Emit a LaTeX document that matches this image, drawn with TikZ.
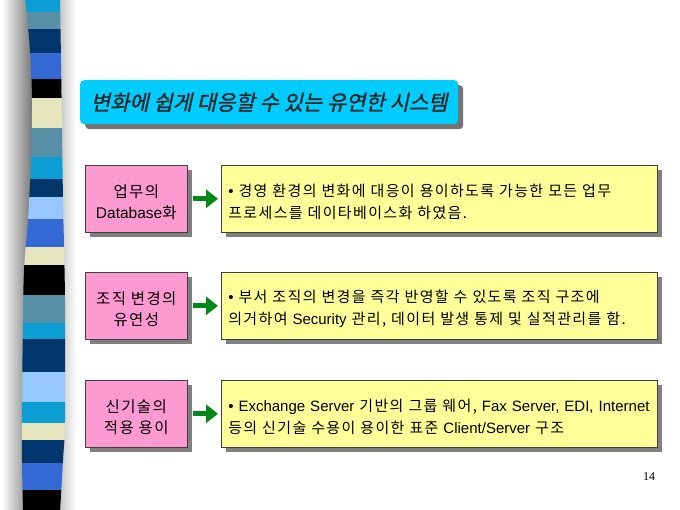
\documentclass[tikz,border=0pt]{standalone}
\usepackage{fontspec}
\setmainfont[LetterSpace=9]{Noto Sans CJK KR}
\newfontfamily\ar{Liberation Sans}
\newfontfamily\ttlfont[FakeSlant=0.22,FakeBold=1.2]{Noto Sans CJK KR}
\newfontfamily\tms{Liberation Serif}
\usetikzlibrary{arrows.meta,shadows}
\definecolor{scyan}{RGB}{10,158,212}
\definecolor{ssteel}{RGB}{88,144,168}
\definecolor{snavy}{RGB}{0,54,108}
\definecolor{sroyal}{RGB}{52,104,210}
\definecolor{sbeige}{RGB}{230,230,190}
\definecolor{slight}{RGB}{150,200,255}
\definecolor{titlecyan}{RGB}{0,204,255}
\definecolor{pinkfill}{RGB}{255,153,210}
\definecolor{yelfill}{RGB}{255,255,153}
\definecolor{arrgreen}{RGB}{0,136,24}
\newcommand{\toppad}{\rule{0pt}{19pt}}
\tikzset{
  shbox/.style={draw=black!75, line width=0.6pt, drop shadow={shadow xshift=5pt, shadow yshift=-5pt, fill=black!50, opacity=1}},
  pinkbox/.style={shbox, fill=pinkfill, minimum width=102pt, minimum height=67pt, inner sep=0pt, align=center, font=\fontsize{15.5}{21}\selectfont, anchor=north west},
  yelbox/.style={shbox, fill=yelfill, minimum height=67pt, text width=422pt, inner xsep=7pt, inner ysep=0pt, align=left, font=\fontsize{15}{22}\selectfont, anchor=north west},
  arr/.style={arrgreen, line width=5pt, -{Triangle[length=12pt,width=18pt]}, shorten >=3pt, shorten <=5pt}
}
\begin{document}
\begin{tikzpicture}[x=1pt,y=-1pt]
\useasboundingbox (0,0) rectangle (680,510);
\fill[white] (0,0) rectangle (680,510);
% stripe shadows
\shade[left color=white, right color=black!55] (2,0) rectangle (33,510);
\shade[left color=black!25, right color=white] (58,0) rectangle (76,510);
% stripe
\begin{scope}
\clip plot[smooth] coordinates {(25,-2)(30,50)(32,100)(31,160)(28,220)(24,270)(23,320)(22,400)(22,460)(23,512)}
  -- plot[smooth] coordinates {(60,512)(63,460)(65,420)(65,300)(63,200)(62,130)(61,60)(60,-2)} -- cycle;
\fill[scyan] (0,-2) rectangle (80,12);
\fill[ssteel] (0,12) rectangle (80,29);
\fill[snavy] (0,29) rectangle (80,53);
\fill[sroyal] (0,53) rectangle (80,79);
\fill[black] (0,79) rectangle (80,98);
\fill[sbeige] (0,98) rectangle (80,128);
\fill[ssteel] (0,128) rectangle (80,157);
\fill[scyan] (0,157) rectangle (80,179);
\fill[snavy] (0,179) rectangle (80,197);
\fill[slight] (0,197) rectangle (80,219);
\fill[sroyal] (0,219) rectangle (80,247);
\fill[sbeige] (0,247) rectangle (80,265);
\fill[black] (0,265) rectangle (80,295);
\fill[ssteel] (0,295) rectangle (80,323);
\fill[scyan] (0,323) rectangle (80,339);
\fill[snavy] (0,339) rectangle (80,372);
\fill[slight] (0,372) rectangle (80,402);
\fill[scyan] (0,402) rectangle (80,423);
\fill[sbeige] (0,423) rectangle (80,440);
\fill[snavy] (0,440) rectangle (80,463);
\fill[sroyal] (0,463) rectangle (80,490);
\fill[black] (0,490) rectangle (80,512);
\end{scope}
% title
\node[fill=titlecyan, rounded corners=4pt, minimum width=378pt, minimum height=44pt, anchor=north west,
  drop shadow={shadow xshift=5pt, shadow yshift=-5pt, fill=black!55, opacity=1},
  font=\ttlfont\fontsize{21}{24}\selectfont, text=black!85] (title) at (80,80) {변화에 쉽게 대응할 수 있는 유연한 시스템};
% row 1
\node[pinkbox] (p1) at (85,165) {\toppad 업무의\\{\ar Database}화};
\node[yelbox] (y1) at (221,165) {\toppad{\ar •} 경영 환경의 변화에 대응이 용이하도록 가능한 모든 업무\\프로세스를 데이타베이스화 하였음.};
\draw[arr] (p1.east) -- (y1.west);
% row 2
\node[pinkbox] (p2) at (85,272) {\toppad 조직 변경의\\유연성};
\node[yelbox] (y2) at (221,272) {\toppad{\ar •} 부서 조직의 변경을 즉각 반영할 수 있도록 조직 구조에\\의거하여 {\ar Security} 관리, 데이터 발생 통제 및 실적관리를 함.};
\draw[arr] (p2.east) -- (y2.west);
% row 3
\node[pinkbox] (p3) at (85,380) {\toppad 신기술의\\적용 용이};
\node[yelbox] (y3) at (221,380) {\toppad{\ar • Exchange Server} 기반의 그룹 웨어, {\ar Fax Server, EDI, Internet}\\등의 신기술 수용이 용이한 표준 {\ar Client/Server} 구조};
\draw[arr] (p3.east) -- (y3.west);
% page number
\node[font=\tms\fontsize{12}{14}\selectfont] (pg) at (649,477) {14};
\end{tikzpicture}
\end{document}
